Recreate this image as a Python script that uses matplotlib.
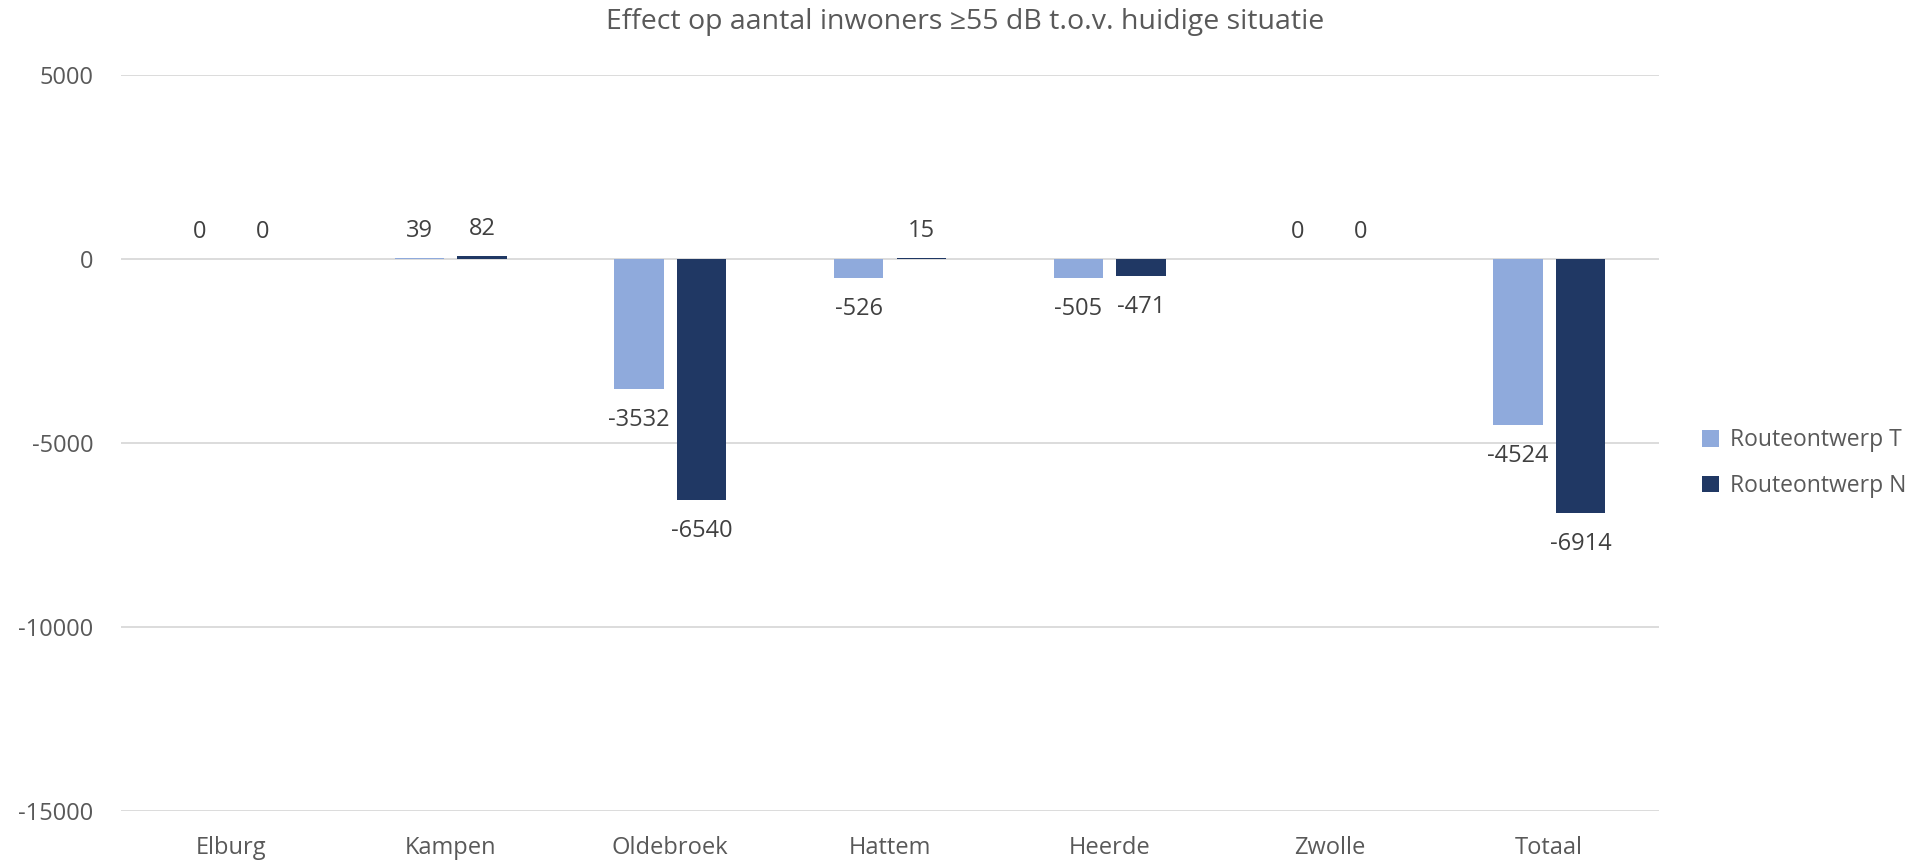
import matplotlib.pyplot as plt
import numpy as np

plt.rcParams['font.family'] = ['Open Sans', 'DejaVu Sans']

# data
categories = ['Elburg', 'Kampen', 'Oldebroek', 'Hattem', 'Heerde', 'Zwolle', 'Totaal']
route_t = [0, 39, -3532, -526, -505, 0, -4524]
route_n = [0, 82, -6540, 15, -471, 0, -6914]
series_names = ['Routeontwerp T', 'Routeontwerp N']
yticks = [5000, 0, -5000, -10000, -15000]

col_t = '#8faadc'
col_n = '#203864'
grid_col = '#d9d9d9'
text_col = '#595959'
label_col = '#404040'

fig = plt.figure(figsize=(19.3, 8.65), dpi=100)
ax = fig.add_axes([121 / 1930, 1 - 811 / 865, (1659 - 121) / 1930, (811 - 75) / 865])

x = np.arange(len(categories))
w = 0.225
off = (w + 0.06) / 2

bars_t = ax.bar(x - off, route_t, w, color=col_t, label=series_names[0], zorder=3)
bars_n = ax.bar(x + off, route_n, w, color=col_n, label=series_names[1], zorder=3)

# data labels
for bars, vals in [(bars_t, route_t), (bars_n, route_n)]:
    for b, v in zip(bars, vals):
        cx = b.get_x() + b.get_width() / 2
        if v >= 0:
            ax.annotate(str(v), (cx, v), xytext=(0, 15), textcoords='offset pixels',
                        ha='center', va='bottom', fontsize=17, color=label_col)
        else:
            ax.annotate(str(v), (cx, v), xytext=(0, -19), textcoords='offset pixels',
                        ha='center', va='top', fontsize=17, color=label_col)

ax.set_xlim(-0.5, len(categories) - 0.5)
ax.set_ylim(-15000, 5000)
ax.set_yticks(yticks)
ax.set_yticklabels([str(t) for t in yticks])
ax.set_xticks(x)
ax.set_xticklabels(categories)
ax.tick_params(axis='both', length=0, labelsize=17, labelcolor=text_col)
ax.tick_params(axis='y', pad=20)
ax.tick_params(axis='x', pad=18)
ax.yaxis.grid(True, color=grid_col, linewidth=1.3, zorder=0)
for s in ax.spines.values():
    s.set_visible(False)

fig.suptitle('Effect op aantal inwoners ≥55 dB t.o.v. huidige situatie',
             x=0.5, y=1 - 22 / 865, va='center', fontsize=20.5, color=text_col)

ax.legend(loc='center left', bbox_to_anchor=(1681 / 1930, 1 - 463 / 865),
          bbox_transform=fig.transFigure, frameon=False, fontsize=16.5,
          labelcolor=text_col, handlelength=0.75, handleheight=0.75,
          handletextpad=0.5, labelspacing=0.95)

fig.savefig('out.png', dpi=100)
